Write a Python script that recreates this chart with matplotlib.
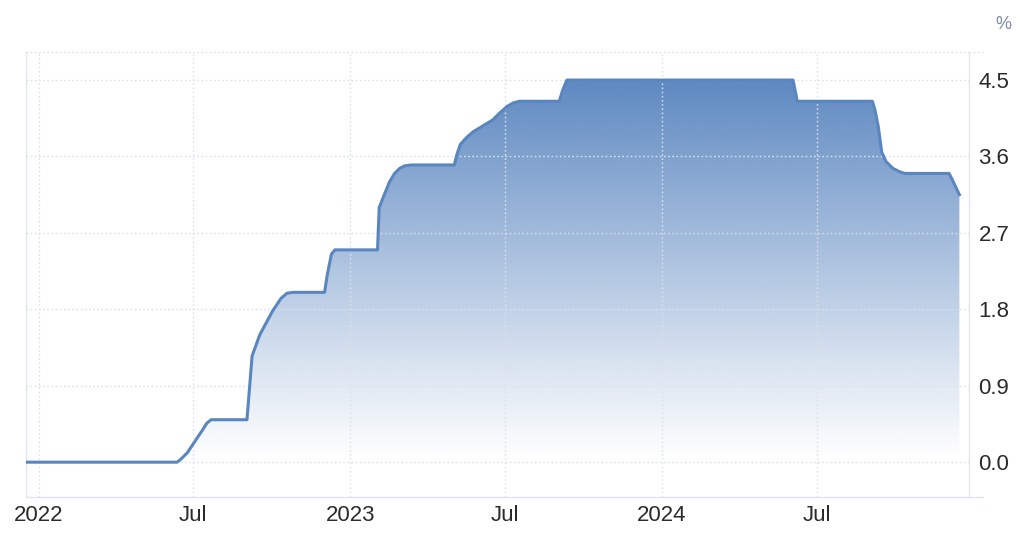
import numpy as np
import matplotlib
matplotlib.use('Agg')
import matplotlib.pyplot as plt
import matplotlib.dates as mdates
from matplotlib.colors import to_rgb

plt.rcParams['font.family'] = ['Liberation Sans', 'DejaVu Sans']

# values
dates = np.array([
    '2021-12-17', '2022-06-12', '2022-06-16', '2022-06-24', '2022-07-02', '2022-07-12', '2022-07-17', '2022-07-22',
    '2022-09-02', '2022-09-08', '2022-09-17', '2022-10-02', '2022-10-12', '2022-10-19', '2022-10-26',
    '2022-12-02', '2022-12-05', '2022-12-10', '2022-12-14',
    '2023-02-02', '2023-02-04', '2023-02-10', '2023-02-16', '2023-02-22', '2023-02-28', '2023-03-06', '2023-03-14',
    '2023-05-03', '2023-05-06', '2023-05-10', '2023-05-17', '2023-05-25', '2023-06-17', '2023-06-25',
    '2023-07-04', '2023-07-11', '2023-07-18', '2023-07-24',
    '2023-09-03', '2023-09-07', '2023-09-12',
    '2024-06-03', '2024-06-08',
    '2024-09-04', '2024-09-07', '2024-09-11', '2024-09-15', '2024-09-20', '2024-09-28', '2024-10-06', '2024-10-12',
    '2024-12-03', '2024-12-07', '2024-12-15',
], dtype='datetime64[D]')
rate = np.array([
    0.0, 0.0, 0.03, 0.11, 0.23, 0.38, 0.46, 0.5,
    0.5, 1.25, 1.50, 1.78, 1.93, 1.99, 2.0,
    2.0, 2.2, 2.45, 2.5,
    2.5, 3.0, 3.15, 3.30, 3.40, 3.46, 3.49, 3.5,
    3.5, 3.62, 3.74, 3.82, 3.89, 4.03, 4.11,
    4.19, 4.23, 4.25, 4.25,
    4.25, 4.38, 4.5,
    4.5, 4.25,
    4.25, 4.15, 3.95, 3.65, 3.54, 3.46, 3.42, 3.40,
    3.40, 3.32, 3.15,
])
yticks = [0.0, 0.9, 1.8, 2.7, 3.6, 4.5]
xtick_dates = np.array(['2022-01-01', '2022-07-01', '2023-01-01', '2023-07-01',
                        '2024-01-01', '2024-07-01'], dtype='datetime64[D]')
xtick_labels = ['2022', 'Jul', '2023', 'Jul', '2024', 'Jul']

line_color = '#5a86c0'
grid_color = '#dbe1ea'
frame_color = '#e0e6ef'
text_color = '#2b2b2b'

fig = plt.figure(figsize=(10.27, 5.34), dpi=100)
ax = fig.add_axes([0.0253, 0.0693, 0.918, 0.8333])

x = mdates.date2num(dates)
x0 = mdates.date2num(np.datetime64('2021-12-17'))
x1 = mdates.date2num(np.datetime64('2024-12-26'))
ymin, ymax = -0.41, 4.83

# gradient fill under the line
poly = ax.fill_between(x, rate, 0, color='none', lw=0)
rgb = np.array(to_rgb(line_color))
n = 256
alpha = np.linspace(0.0, 1.0, n) ** 1.05
img = np.zeros((n, 1, 4))
img[:, 0, :3] = rgb
img[:, 0, 3] = alpha * 0.98
im = ax.imshow(img, origin='lower', aspect='auto',
               extent=[x[0], x[-1], 0, max(rate)], zorder=1, interpolation='bilinear')
im.set_clip_path(poly.get_paths()[0], transform=ax.transData)

ax.plot(x, rate, color=line_color, lw=2.2, zorder=3, solid_joinstyle='round')

ax.set_xlim(x0, x1)
ax.set_ylim(ymin, ymax)

ax.set_xticks(mdates.date2num(xtick_dates))
ax.set_xticklabels(xtick_labels)
ax.set_yticks(yticks)
ax.set_yticklabels(['%.1f' % v for v in yticks])
ax.yaxis.tick_right()
ax.tick_params(axis='both', length=0, labelsize=16, colors=text_color)
ax.tick_params(axis='y', pad=7)
ax.tick_params(axis='x', pad=6)

ax.grid(True, color=grid_color, linestyle=(0, (1.2, 1.8)), lw=1.0, zorder=0)
ax.axhline(ymax, color=grid_color, linestyle=(0, (1.2, 1.8)), lw=1.0, zorder=0, clip_on=False)

for side in ['left', 'bottom', 'right']:
    ax.spines[side].set_color(frame_color)
    ax.spines[side].set_linewidth(1.0)
ax.spines['top'].set_visible(False)

# top and bottom frame lines run slightly past the right axis
ax.plot([1.0, 1.015], [0, 0], transform=ax.transAxes, color=frame_color, lw=1.0, clip_on=False)
ax.plot([1.0, 1.015], [1, 1], transform=ax.transAxes, color=grid_color, lw=1.0,
        linestyle=(0, (1.2, 1.8)), clip_on=False)

fig.text(0.977, 0.955, '%', color='#7b8aa6', fontsize=13, ha='center', va='center')

fig.savefig('out.png', dpi=100)
